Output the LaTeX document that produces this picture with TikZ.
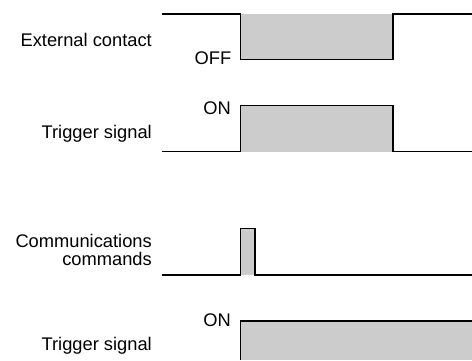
\documentclass[tikz,border=0pt]{standalone}
\usepackage{fontspec}
\setmainfont{Liberation Sans}
\definecolor{sig}{HTML}{CCCCCC}
\begin{document}
\begin{tikzpicture}[x=1pt,y=1pt,
  wave/.style={line width=1.3pt, line join=miter, line cap=rect},
  sigfill/.style={fill=sig, draw=none},
  lbl/.style={font=\fontsize{18.3}{17.3}\selectfont, inner sep=0pt, anchor=base east, align=right}]
\useasboundingbox (0,0) rectangle (472,360);
% labels
\node[lbl] (ext) at (152,314) {External contact};
\node[lbl] (off) at (231.5,296) {OFF};
\node[lbl] (on1) at (231,246) {ON};
\node[lbl] (trg1) at (152,221.7) {Trigger signal};
\node[lbl] (com) at (152,95) {Communications\\commands};
\node[lbl] (on2) at (231,33.3) {ON};
\node[lbl] (trg2) at (152,10) {Trigger signal};
% fills
\fill[sigfill] (240.7,346) rectangle (393,300.7);
\fill[sigfill] (240.7,254.7) rectangle (393,208.3);
\fill[sigfill] (240.3,131.7) rectangle (255,85);
\fill[sigfill] (240.7,39) rectangle (472,0);
% external contact
\coordinate (a0) at (163,346);
\coordinate (a1) at (240.7,346);
\coordinate (a2) at (240.7,300.7);
\coordinate (a3) at (393,300.7);
\coordinate (a4) at (393,346);
\coordinate (a5) at (471,346);
\draw[wave] (a0) -- (a1) -- (a2) -- (a3) -- (a4) -- (a5);
% trigger 1
\coordinate (b0) at (163,208.3);
\coordinate (b1) at (240.7,208.3);
\coordinate (b2) at (240.7,254.7);
\coordinate (b3) at (393,254.7);
\coordinate (b4) at (393,208.3);
\coordinate (b5) at (471,208.3);
\draw[wave] (b0) -- (b1) -- (b2) -- (b3) -- (b4) -- (b5);
% communications
\coordinate (c0) at (163,85);
\coordinate (c1) at (240.3,85);
\coordinate (c2) at (240.3,131.7);
\coordinate (c3) at (255,131.7);
\coordinate (c4) at (255,85);
\coordinate (c5) at (471,85);
\draw[wave] (c0) -- (c1) -- (c2) -- (c3) -- (c4) -- (c5);
% trigger 2
\coordinate (d0) at (240.7,0);
\coordinate (d1) at (240.7,39);
\coordinate (d2) at (472,39);
\draw[wave, line cap=butt] (d0) -- (d1) -- (d2);
\end{tikzpicture}
\end{document}
